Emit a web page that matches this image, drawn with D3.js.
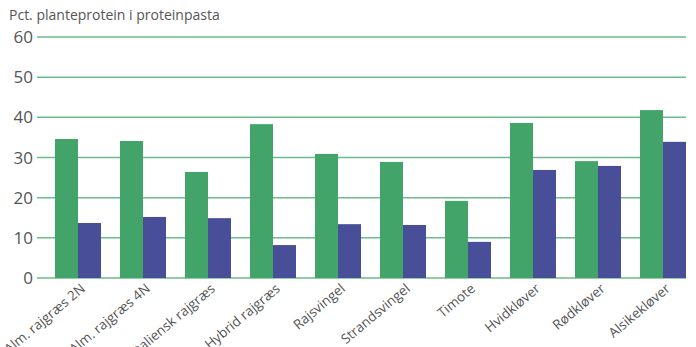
<!DOCTYPE html>
<html><head><meta charset="utf-8">
<script src="https://cdn.jsdelivr.net/npm/d3@7/dist/d3.min.js"></script>
<style>body{margin:0;background:#fff;}svg{display:block;}</style>
</head><body>
<svg id="c" width="696" height="347"></svg>
<script>
const categories = ["Alm. rajgræs 2N","Alm. rajgræs 4N","Italiensk rajgræs","Hybrid rajgræs","Rajsvingel","Strandsvingel","Timote","Hvidkløver","Rødkløver","Alsikekløver"];
const seriesA = [34.6, 34.1, 26.4, 38.3, 30.9, 28.9, 19.2, 38.6, 29.1, 41.8];
const seriesB = [13.7, 15.2, 14.9, 8.2, 13.4, 13.2, 9.0, 26.9, 27.9, 33.9];
const yTicks = [0, 10, 20, 30, 40, 50, 60];
const yTitle = "Pct. planteprotein i proteinpasta";

const svg = d3.select("#c");
const font = "'Open Sans', 'Liberation Sans', sans-serif";
const y = d3.scaleLinear().domain([0, 60]).range([278, 37]);
const x = d3.scaleBand().domain(categories).range([55, 686]).paddingInner(0.2923).paddingOuter(0);
const xs = d3.scaleBand().domain(["a","b"]).range([0, x.bandwidth()]);

// gridlines
svg.append("g").selectAll("line").data(yTicks).join("line")
  .attr("x1", 37).attr("x2", 686)
  .attr("y1", d => y(d)).attr("y2", d => y(d))
  .attr("stroke", "#6dbb8a").attr("stroke-width", 1.5);

// y labels
svg.append("g").selectAll("text").data(yTicks).join("text")
  .attr("x", 33).attr("y", d => y(d) + 6)
  .attr("text-anchor", "end").attr("font-family", font).attr("font-size", 17)
  .attr("fill", "#555").text(d => d);

svg.append("text").attr("x", 9).attr("y", 20).attr("font-family", font)
  .attr("font-size", 14).attr("fill", "#555").text(yTitle);

const g = svg.append("g");
g.selectAll("rect.a").data(categories).join("rect").attr("class","a")
  .attr("x", d => x(d) + xs("a")).attr("width", xs.bandwidth())
  .attr("y", (d,i) => y(seriesA[i])).attr("height", (d,i) => y(0) - y(seriesA[i]))
  .attr("fill", "#42a468");
g.selectAll("rect.b").data(categories).join("rect").attr("class","b")
  .attr("x", d => x(d) + xs("b")).attr("width", xs.bandwidth())
  .attr("y", (d,i) => y(seriesB[i])).attr("height", (d,i) => y(0) - y(seriesB[i]))
  .attr("fill", "#484e98");

// x labels
svg.append("g").selectAll("text").data(categories).join("text")
  .attr("transform", d => `translate(${x(d) + x.bandwidth()/2 + 8},${290}) rotate(-40)`)
  .attr("text-anchor", "end").attr("font-family", font).attr("font-size", 13.5)
  .attr("fill", "#555").text(d => d);
</script>
</body></html>
